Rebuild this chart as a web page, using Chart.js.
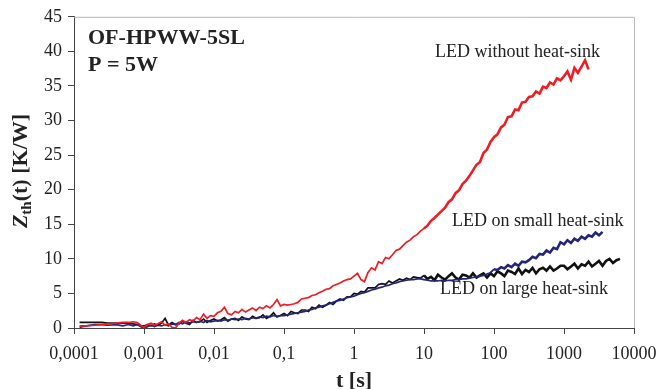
<!DOCTYPE html>
<html lang="en">
<head>
  <meta charset="UTF-8" />
  <title>Zth(t) - OF-HPWW-5SL</title>
  <script src="https://cdn.jsdelivr.net/npm/chart.js"></script>
  <style>
    body {
      margin: 0;
      padding: 0;
      background: white;
    }

    .wrap {
      width: 660px;
      height: 389px;
    }
  </style>
</head>
<body>
  <div class="wrap">
    <canvas id="zthChart" width="660" height="389"></canvas>
  </div>

  <script>
    // time points [s]
    const times = [
      0.00012, 0.00015, 0.0002, 0.00025, 0.0003, 0.0004, 0.0005, 0.0006, 0.0007, 0.0008, 0.0009,
      0.001, 0.00112, 0.00126, 0.00141, 0.00158, 0.00178, 0.002, 0.00224, 0.00251, 0.00282,
      0.00316, 0.00355, 0.00398, 0.00447, 0.00501, 0.00562, 0.00631, 0.00708, 0.00794, 0.00891,
      0.01, 0.0112, 0.0126, 0.0141, 0.0158, 0.0178, 0.02, 0.0224, 0.0251, 0.0282,
      0.0316, 0.0355, 0.0398, 0.0447, 0.0501, 0.0562, 0.0631, 0.0708, 0.0794, 0.0891,
      0.1, 0.112, 0.126, 0.141, 0.158, 0.178, 0.2, 0.224, 0.251, 0.282,
      0.316, 0.355, 0.398, 0.447, 0.501, 0.562, 0.631, 0.708, 0.794, 0.891,
      1, 1.12, 1.26, 1.41, 1.58, 1.78, 2, 2.24, 2.51, 2.82,
      3.16, 3.55, 3.98, 4.47, 5.01, 5.62, 6.31, 7.08, 7.94, 8.91,
      10, 11.2, 12.6, 14.1, 15.8, 17.8, 20, 22.4, 25.1, 28.2,
      31.6, 35.5, 39.8, 44.7, 50.1, 56.2, 63.1, 70.8, 79.4, 89.1,
      100, 112, 126, 141, 158, 178, 200, 224, 251, 282,
      316, 355, 398, 447, 501, 562, 631, 708, 794, 891,
      1000, 1120, 1260, 1410, 1580, 1780, 2000, 2240, 2510, 2820,
      3160, 3550, 3980, 4470, 5010, 5620, 6310
    ];

    // LED without heat-sink [K/W]
    const zNoSink = [
      0.3, 0.3, 0.4, 0.5, 0.6, 0.7, 0.8, 0.8, 0.9, 0.8, 0.4,
      0.1, 0.5, 0.7, 0.4, 0.6, 0.9, 0.4, 0.6, 0.1, 0.0,
      0.7, 1.1, 0.8, 1.2, 1.0, 1.5, 1.2, 2.0, 1.4, 1.8,
      1.7, 2.2, 2.4, 3.0, 2.1, 1.9, 2.4, 2.2, 2.7, 2.3,
      2.6, 2.9, 2.5, 3.0, 2.8, 3.2, 2.9, 3.4, 4.1, 3.2,
      3.4, 3.3, 3.4, 3.5, 3.7, 4.2, 4.3, 4.4, 4.7, 4.8,
      5.1, 5.3, 5.6, 5.7, 6.1, 6.3, 6.5, 6.8, 7.0, 7.1,
      7.5, 7.9, 7.0, 6.7, 8.0, 8.7, 8.4, 9.6, 9.3, 10.2,
      10.0, 10.6, 11.2, 11.4, 11.9, 12.4, 12.7, 13.2, 13.5, 14.0,
      14.4, 14.8, 15.5, 15.9, 16.4, 16.9, 17.4, 18.2, 18.6, 19.5,
      19.9, 20.8, 21.3, 22.0, 22.8, 23.6, 24.0, 25.3, 25.8, 26.9,
      27.6, 28.0, 29.0, 29.4, 30.5, 30.6, 31.6, 31.5, 32.6, 32.7,
      33.4, 33.5, 34.2, 33.9, 34.9, 34.7, 35.5, 35.2, 36.1, 35.8,
      36.4, 37.1, 35.9, 37.6, 36.9, 37.8, 38.7, 37.4
    ];

    // LED on small heat-sink [K/W]
    const zSmallSink = [
      0.1, 0.3, 0.5, 0.5, 0.4, 0.5, 0.3, 0.5, 0.3, 0.5, 0.2,
      0.0, 0.2, 0.4, 0.2, 0.4, 0.3, 0.5, 0.3, 0.6, 0.5,
      0.8, 0.6, 0.9, 0.7, 0.9, 0.8, 1.0, 0.8, 1.1, 0.9,
      1.0, 1.1, 1.0, 1.2, 1.1, 1.3, 1.2, 1.3, 1.2, 1.4,
      1.3, 1.5, 1.4, 1.6, 1.5, 1.7, 1.6, 1.8, 1.7, 1.8,
      1.8, 1.9, 2.0, 2.1, 2.2, 2.3, 2.4, 2.6, 2.7, 2.9,
      3.0, 3.2, 3.3, 3.5, 3.7, 3.9, 4.0, 4.2, 4.4, 4.5,
      4.6, 4.8, 5.0, 5.1, 5.3, 5.5, 5.6, 5.8, 5.9, 6.1,
      6.2, 6.4, 6.5, 6.7, 6.8, 6.9, 7.0, 7.0, 7.1, 7.1,
      7.0, 6.9, 6.8, 6.8, 6.8, 6.9, 6.8, 6.9, 6.9, 7.0,
      7.0, 7.1, 7.1, 7.2, 7.3, 7.4, 7.5, 7.6, 7.8, 8.0,
      8.5, 8.4, 8.8, 8.6, 9.1, 8.8, 9.3, 9.0, 9.6, 9.5,
      9.8, 10.3, 10.1, 10.7, 10.6, 11.2, 10.9, 11.6, 11.4, 12.4,
      12.1, 12.7, 12.3, 12.9, 12.6, 13.2, 12.9, 13.4, 13.2, 13.8,
      13.4, 13.9
    ];

    // LED on large heat-sink [K/W]
    const zLargeSink = [
      0.8, 0.8, 0.8, 0.8, 0.7, 0.7, 0.7, 0.7, 0.6, 0.5, 0.3,
      0.3, 0.5, 0.3, 0.6, 0.4, 0.7, 1.4, 0.4, 0.8, 0.5,
      0.6, 1.0, 0.7, 0.5, 1.1, 0.8, 0.9, 1.3, 0.8, 1.1,
      1.3, 1.0, 1.2, 1.5, 1.0, 1.3, 1.4, 1.1, 1.6, 1.3,
      1.2, 1.7, 1.4, 1.5, 1.9, 1.4, 1.7, 2.2, 1.6, 1.8,
      2.1, 1.8, 2.4, 2.2, 2.1, 2.6, 2.6, 2.4, 3.0, 2.8,
      3.3, 3.0, 3.3, 3.7, 3.4, 3.9, 4.2, 4.0, 4.5, 4.5,
      5.0, 4.9, 5.3, 5.2, 5.8, 5.8, 5.8, 6.3, 6.4, 6.3,
      6.8, 6.5, 6.8, 7.1, 6.9, 7.2, 7.0, 7.4, 7.3, 7.2,
      7.6, 7.1, 7.4, 6.9, 7.7, 7.3, 7.0, 7.5, 7.9, 7.3,
      7.0, 7.7, 7.6, 7.3, 7.9, 7.3, 7.6, 7.9, 7.3, 7.9,
      7.5, 8.2, 7.9, 7.5, 8.3, 8.1, 7.8, 8.6, 7.8, 8.4,
      8.1, 8.7, 7.9, 8.5, 8.7, 8.3, 8.9, 8.3, 8.6, 9.0,
      9.0, 8.5, 8.9, 9.3, 8.6, 9.2, 9.0, 9.6, 8.9, 9.3,
      9.7, 9.0, 9.7, 10.0, 9.4, 9.8, 10.0
    ];

    const xTicks = [0.0001, 0.001, 0.01, 0.1, 1, 10, 100, 1000, 10000];
    const xTickLabels = ['0,0001', '0,001', '0,01', '0,1', '1', '10', '100', '1000', '10000'];

    const curveLabels = [
      { text: 'LED without heat-sink', x: 435, y: 52 },
      { text: 'LED on small heat-sink', x: 452, y: 221 },
      { text: 'LED on large heat-sink', x: 440, y: 289 }
    ];

    function toPoints(zs) {
      return zs.map((z, i) => ({ x: times[i], y: z }));
    }

    // the measured traces get noisier (visually thicker) at long times
    function noisyWidth(fromT) {
      return ctx => (ctx.p0.parsed.x >= fromT ? 2.6 : 1.7);
    }

    const serif = '"Liberation Serif", "Times New Roman", serif';

    // frame, annotations and the axis titles
    const decorations = {
      id: 'decorations',
      afterDraw(chart) {
        const ctx = chart.ctx;
        const a = chart.chartArea;
        ctx.save();

        ctx.strokeStyle = '#b8b8b8';
        ctx.lineWidth = 1;
        ctx.beginPath();
        ctx.moveTo(a.left, a.top + 0.5);
        ctx.lineTo(a.right + 0.5, a.top + 0.5);
        ctx.lineTo(a.right + 0.5, a.bottom);
        ctx.stroke();

        ctx.fillStyle = '#222';
        ctx.textBaseline = 'middle';
        ctx.textAlign = 'left';
        ctx.font = 'bold 22px ' + serif;
        ctx.fillText('OF-HPWW-5SL', 88, 38);
        ctx.fillText('P = 5W', 88, 65);

        ctx.font = '18px ' + serif;
        curveLabels.forEach(l => ctx.fillText(l.text, l.x, l.y));

        ctx.textAlign = 'center';
        ctx.font = 'bold 22px ' + serif;
        ctx.fillText('t [s]', 354, 381);

        // Z_th(t) [K/W], rotated
        ctx.translate(21, 171);
        ctx.rotate(-Math.PI / 2);
        ctx.textAlign = 'left';
        const partZ = 'Z', partSub = 'th', partRest = '(t) [K/W]';
        ctx.font = 'italic bold 22px ' + serif;
        const wZ = ctx.measureText(partZ).width;
        ctx.font = 'bold 15px ' + serif;
        const wSub = ctx.measureText(partSub).width;
        ctx.font = 'bold 22px ' + serif;
        const wRest = ctx.measureText(partRest).width;
        let x0 = -(wZ + wSub + wRest) / 2;
        ctx.font = 'italic bold 22px ' + serif;
        ctx.fillText(partZ, x0, 0);
        ctx.font = 'bold 15px ' + serif;
        ctx.fillText(partSub, x0 + wZ, 6);
        ctx.font = 'bold 22px ' + serif;
        ctx.fillText(partRest, x0 + wZ + wSub, 0);

        ctx.restore();
      }
    };

    new Chart(document.getElementById('zthChart'), {
      type: 'scatter',
      data: {
        datasets: [
          {
            label: 'LED without heat-sink',
            data: toPoints(zNoSink),
            showLine: true,
            borderColor: '#ee1c25',
            borderWidth: 1.7,
            segment: { borderWidth: noisyWidth(10) },
            pointRadius: 0,
            tension: 0
          },
          {
            label: 'LED on small heat-sink',
            data: toPoints(zSmallSink),
            showLine: true,
            borderColor: '#24247a',
            borderWidth: 1.7,
            segment: { borderWidth: noisyWidth(100) },
            pointRadius: 0,
            tension: 0
          },
          {
            label: 'LED on large heat-sink',
            data: toPoints(zLargeSink),
            showLine: true,
            borderColor: '#111111',
            borderWidth: 1.7,
            segment: { borderWidth: noisyWidth(10) },
            pointRadius: 0,
            tension: 0
          }
        ]
      },
      options: {
        responsive: false,
        animation: false,
        layout: { padding: { top: 14, right: 26, bottom: 0, left: 0 } },
        plugins: {
          legend: { display: false },
          tooltip: { enabled: false }
        },
        scales: {
          x: {
            type: 'logarithmic',
            min: 0.0001,
            max: 10000,
            afterBuildTicks: scale => {
              scale.ticks = xTicks.map(v => ({ value: v }));
            },
            afterFit: scale => {
              scale.height = 61;
              scale.paddingLeft = 0;
              scale.paddingRight = 0;
            },
            border: { color: '#444', width: 1 },
            grid: { drawOnChartArea: false, tickLength: 6, color: '#444' },
            ticks: {
              autoSkip: false,
              maxRotation: 0,
              padding: 9,
              color: '#222',
              font: { family: serif, size: 18 },
              callback: (v, i) => xTickLabels[i]
            }
          },
          y: {
            min: 0,
            max: 45,
            afterFit: scale => { scale.width = 74; },
            border: { color: '#444', width: 1 },
            grid: { drawOnChartArea: false, tickLength: 6, color: '#444' },
            ticks: {
              stepSize: 5,
              padding: 6,
              color: '#222',
              font: { family: serif, size: 18 }
            }
          }
        }
      },
      plugins: [decorations]
    });
  </script>
</body>
</html>
